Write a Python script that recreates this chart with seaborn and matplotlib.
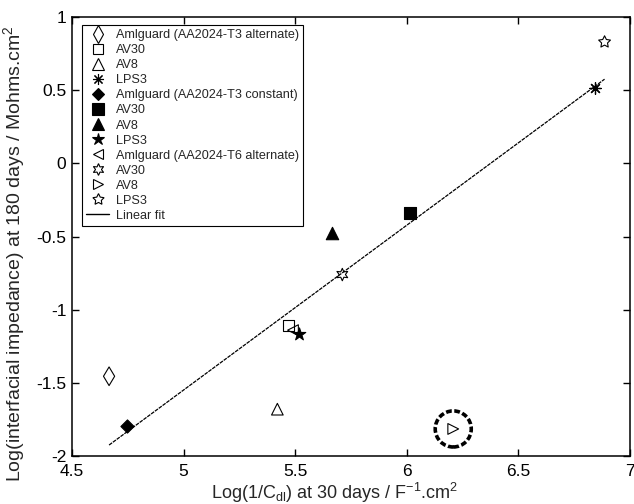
import numpy as np
import pandas as pd
import seaborn as sns
import matplotlib
matplotlib.use("Agg")
import matplotlib.pyplot as plt
from matplotlib.patches import Ellipse
from matplotlib.lines import Line2D

# Series labels
labels = [
    "Amlguard (AA2024-T3 alternate)", "AV30", "AV8", "LPS3",
    "Amlguard (AA2024-T3 constant)", "AV30", "AV8", "LPS3",
    "Amlguard (AA2024-T6 alternate)", "AV30", "AV8", "LPS3",
]
# Log(1/Cdl) at 30 days
x_vals = [4.666, 5.469, 5.420, 6.845,
          4.747, 6.016, 5.666, 5.518,
          5.490, 5.711, 6.208, 6.886]
# Log(interfacial impedance) at 180 days
y_vals = [-1.455, -1.110, -1.680, 0.514,
          -1.795, -0.336, -0.479, -1.164,
          -1.140, -0.760, -1.815, 0.829]

# Linear fit end points
fit_x = [4.666, 6.886]
fit_y = [-1.925, 0.575]

# Highlighted point
highlight_x = 6.208
highlight_y = -1.815

sns.set_theme(style="ticks")
plt.rcParams["font.family"] = ["Liberation Sans", "DejaVu Sans"]
plt.rcParams["mathtext.default"] = "regular"

hexagram = (6, 1, 0)
pentagram = (5, 1, 0)
asterisk = (8, 2, 0)

# filled: True = solid black, False = hollow, None = line-only marker
styles = [
    dict(marker="d", filled=False, s=90),
    dict(marker="s", filled=False, s=60),
    dict(marker="^", filled=False, s=70),
    dict(marker=asterisk, filled=None, s=70),
    dict(marker="D", filled=True, s=45),
    dict(marker="s", filled=True, s=70),
    dict(marker="^", filled=True, s=80),
    dict(marker="*", filled=True, s=90),
    dict(marker="<", filled=False, s=60),
    dict(marker=hexagram, filled=False, s=80),
    dict(marker=">", filled=False, s=60),
    dict(marker=pentagram, filled=False, s=80),
]

fig = plt.figure(figsize=(6.34, 5.04), dpi=100)
ax = fig.add_axes([0.1136, 0.0952, 0.8801, 0.8711])

handles = []
for lab, xv, yv, st in zip(labels, x_vals, y_vals, styles):
    df = pd.DataFrame({"x": [xv], "y": [yv]})
    if st["filled"] is None:
        sns.scatterplot(data=df, x="x", y="y", marker=st["marker"], s=st["s"],
                        color="black", linewidth=0.9, ax=ax, zorder=3,
                        legend=False)
    elif st["filled"]:
        sns.scatterplot(data=df, x="x", y="y", marker=st["marker"], s=st["s"],
                        color="black", edgecolor="black", linewidth=0.8, ax=ax,
                        zorder=3, legend=False)
    else:
        sns.scatterplot(data=df, x="x", y="y", marker=st["marker"], s=st["s"],
                        facecolors="none", edgecolor="black", linewidth=0.8,
                        ax=ax, zorder=3, legend=False)
    handles.append(Line2D([], [], linestyle="none", marker=st["marker"],
                          markersize=np.sqrt(st["s"]) * 0.95,
                          markerfacecolor="black" if st["filled"] else "none",
                          markeredgecolor="black", markeredgewidth=0.8,
                          label=lab))

fit_df = pd.DataFrame({"x": fit_x, "y": fit_y})
sns.lineplot(data=fit_df, x="x", y="y", color="black", linewidth=0.9,
             linestyle=(0, (3, 0.8)), ax=ax, zorder=2)
handles.append(Line2D([], [], color="black", linewidth=1.0, label="Linear fit"))

ax.add_patch(Ellipse((highlight_x, highlight_y), width=2 * 18 / 223,
                     height=2 * 18 / 146, fill=False, edgecolor="black",
                     linewidth=2.6, linestyle=(0, (1.6, 0.7)), zorder=4))

ax.set_xlim(4.5, 7)
ax.set_ylim(-2, 1)
ax.set_xticks([4.5, 5, 5.5, 6, 6.5, 7])
ax.set_xticklabels(["4.5", "5", "5.5", "6", "6.5", "7"])
ax.set_yticks([-2, -1.5, -1, -0.5, 0, 0.5, 1])
ax.set_yticklabels(["-2", "-1.5", "-1", "-0.5", "0", "0.5", "1"])
ax.tick_params(direction="in", top=True, right=True, length=5, width=1,
               labelsize=12.5, colors="black")
ax.tick_params(axis="x", pad=6)
ax.tick_params(axis="y", pad=4)
for sp in ax.spines.values():
    sp.set_linewidth(1.1)
    sp.set_color("black")

ax.set_xlabel("Log(1/C$_{dl}$) at 30 days / F$^{-1}$.cm$^{2}$", fontsize=13)
ax.xaxis.set_label_coords(0.47, -0.057)
ax.set_ylabel("Log(interfacial impedance) at 180 days / Mohms.cm$^{2}$",
              fontsize=14)
ax.yaxis.set_label_coords(-0.08, 0.46)

leg = ax.legend(handles=handles, loc="upper left",
                bbox_to_anchor=(0.018, 0.982), fontsize=9.1,
                frameon=True, fancybox=False, edgecolor="black",
                framealpha=1, labelspacing=0.24, handlelength=1.8,
                handletextpad=0.5, borderpad=0.35, borderaxespad=0)
leg.get_frame().set_linewidth(0.8)

fig.savefig("out.png", dpi=100)
